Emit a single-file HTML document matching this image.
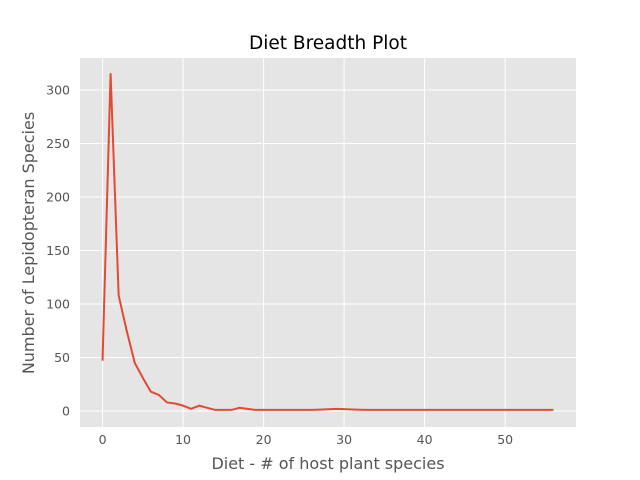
<!DOCTYPE html>
<html><head><meta charset="utf-8"><style>
body{margin:0;background:#fff;}
svg{display:block;font-family:"DejaVu Sans","Liberation Sans",sans-serif;}
</style></head><body>
<svg id="chart" width="640" height="480"></svg>
<script>
const xValues=[0,1,2,3,4,5,6,7,8,9,10,11,12,13,14,15,16,17,18,19,20,21,22,23,24,25,26,27,28,29,30,31,32,33,34,35,36,37,38,39,40,41,42,43,44,45,46,47,48,49,50,51,52,53,54,55,56];
const yValues=[47,315,108,75,45,31,18,15,8,7,5,2,5,3,1,1,1,3,2,1,1,1,1,1,1,1,1,1.3,1.6,2,1.7,1.4,1.2,1,1,1,1,1,1,1,1,1,1,1,1,1,1,1,1,1,1,1,1,1,1,1,1];
const xTicks=[0,10,20,30,40,50];
const yTicks=[0,50,100,150,200,250,300];
const NS="http://www.w3.org/2000/svg";
const svg=document.getElementById('chart');
const L=80,R=576,T=58,B=427;
const x0=-2.8,x1=58.8,y0=-15.75,y1=330.75;
const sx=v=>L+(v-x0)/(x1-x0)*(R-L);
const sy=v=>411-v*1.07;
function mk(tag,attrs,parent){const e=document.createElementNS(NS,tag);for(const k in attrs)e.setAttribute(k,attrs[k]);(parent||svg).appendChild(e);return e;}
const bg=mk('rect',{x:L,y:T,width:R-L,height:B-T,fill:'#e5e5e5'});


xTicks.forEach(t=>{
  const g=mk('line',{x1:sx(t),x2:sx(t),y1:T,y2:B,stroke:'#fff','stroke-width':1});
  
  
  const tx=mk('text',{x:sx(t),y:B+17,'text-anchor':'middle','font-size':12.5,fill:'#555'});
  tx.textContent=t;
  
  
});
yTicks.forEach(t=>{
  const g=mk('line',{x1:L,x2:R,y1:sy(t),y2:sy(t),stroke:'#fff','stroke-width':1});
  
  
  const tx=mk('text',{x:L-10,y:sy(t)+4.5,'text-anchor':'end','font-size':12.5,fill:'#555'});
  tx.textContent=t;
  
  
});
const line=mk('polyline',{points:xValues.map((v,i)=>sx(v)+','+sy(yValues[i])).join(' '),fill:'none',stroke:'#e24a33','stroke-width':2,'stroke-linejoin':'round'});


const title=mk('text',{x:(L+R)/2,y:49,'text-anchor':'middle','font-size':18.5,fill:'#000'});
title.textContent='Diet Breadth Plot';


const xl=mk('text',{x:(L+R)/2,y:469,'text-anchor':'middle','font-size':16,fill:'#555'});
xl.textContent='Diet - # of host plant species';


const yl=mk('text',{x:0,y:0,'text-anchor':'middle','font-size':16,fill:'#555',transform:`translate(34,243) rotate(-90)`});
yl.textContent='Number of Lepidopteran Species';


</script>
</body></html>
